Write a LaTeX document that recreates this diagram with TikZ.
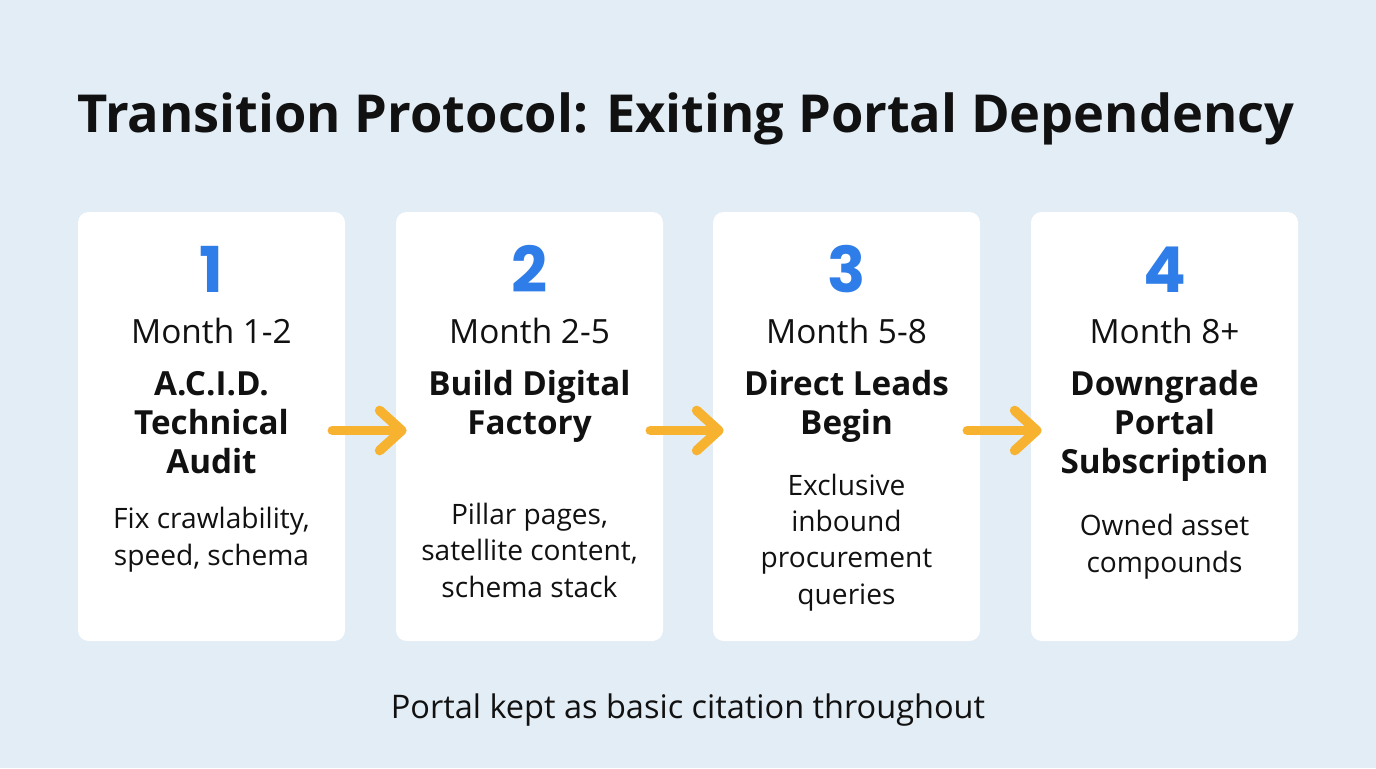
\documentclass[tikz,border=0pt]{standalone}
\usepackage{fontspec}
\setmainfont{Open Sans}
\newfontfamily\numfont{Poppins}
\usetikzlibrary{positioning}

\definecolor{bgblue}{HTML}{E3EDF5}
\definecolor{stepblue}{HTML}{2F7DE9}
\definecolor{arroworange}{HTML}{F7B230}
\definecolor{inkblack}{HTML}{111111}

\tikzset{
  card/.style={fill=white, rounded corners=6pt, minimum width=267*0.02cm, minimum height=429*0.02cm, inner sep=0pt},
  stepnum/.style={anchor=base, text=stepblue, font=\numfont\bfseries\fontsize{36}{40}\selectfont},
  month/.style={anchor=base, text=inkblack, font=\fontsize{19}{22}\selectfont},
  phase/.style={anchor=base, align=center, text=inkblack, font=\bfseries\fontsize{18.9}{22.1}\selectfont},
  detail/.style={anchor=base, align=center, text=inkblack, font=\fontsize{16}{20.6}\selectfont},
  flow/.style={arroworange, line width=5.5pt, line cap=round, line join=round}
}

\begin{document}
\begin{tikzpicture}[x=0.02cm, y=-0.02cm]
    \fill[bgblue] (0,0) rectangle (1376,768);
    \useasboundingbox (0,0) rectangle (1376,768);

    \node[anchor=base, text=inkblack, font=\bfseries\fontsize{29.8}{34}\selectfont] (title) at (686,132) {Transition Protocol: Exiting Portal Dependency};

    % cards
    \node[card] (card1) at (211.5,426.5) {};
    \node[card] (card2) at (529.5,426.5) {};
    \node[card] (card3) at (846.5,426.5) {};
    \node[card] (card4) at (1164.5,426.5) {};

    % step 1 (multi-line nodes sit on their last baseline)
    \node[stepnum] (num1) at (211.5,292) {1};
    \node[month] (month1) at (211.5,343) {Month 1-2};
    \node[phase] (phase1) at (211.5,473) {A.C.I.D.\\Technical\\Audit};
    \node[detail] (detail1) at (211.5,565) {Fix crawlability,\\speed, schema};

    % step 2
    \node[stepnum] (num2) at (529.5,292) {2};
    \node[month] (month2) at (529.5,343) {Month 2-5};
    \node[phase] (phase2) at (529.5,434) {Build Digital\\Factory};
    \node[detail] (detail2) at (529.5,597) {Pillar pages,\\satellite content,\\schema stack};

    % step 3
    \node[stepnum] (num3) at (846.5,292) {3};
    \node[month] (month3) at (846.5,343) {Month 5-8};
    \node[phase] (phase3) at (846.5,434) {Direct Leads\\Begin};
    \node[detail] (detail3) at (846.5,604) {Exclusive\\inbound\\procurement\\queries};

    % step 4
    \node[stepnum] (num4) at (1164.5,292) {4};
    \node[month] (month4) at (1164.5,343) {Month 8+};
    \node[phase] (phase4) at (1164.5,473) {Downgrade\\Portal\\Subscription};
    \node[detail] (detail4) at (1164.5,572) {Owned asset\\compounds};

    % arrows between cards
    \foreach \a/\b in {card1/card2, card2/card3, card3/card4} {
        \coordinate (s) at ([xshift=-13*0.02cm, yshift=-4*0.02cm]\a.east);
        \coordinate (e) at ([xshift=6*0.02cm, yshift=-4*0.02cm]\b.west);
        \draw[flow] (s) -- (e);
        \draw[flow] ([xshift=-22*0.02cm, yshift=20*0.02cm]e) -- (e) -- ([xshift=-22*0.02cm, yshift=-20*0.02cm]e);
    }

    \node[anchor=base, text=inkblack, font=\fontsize{18.5}{22}\selectfont] (footer) at (688,718) {Portal kept as basic citation throughout};
\end{tikzpicture}
\end{document}
